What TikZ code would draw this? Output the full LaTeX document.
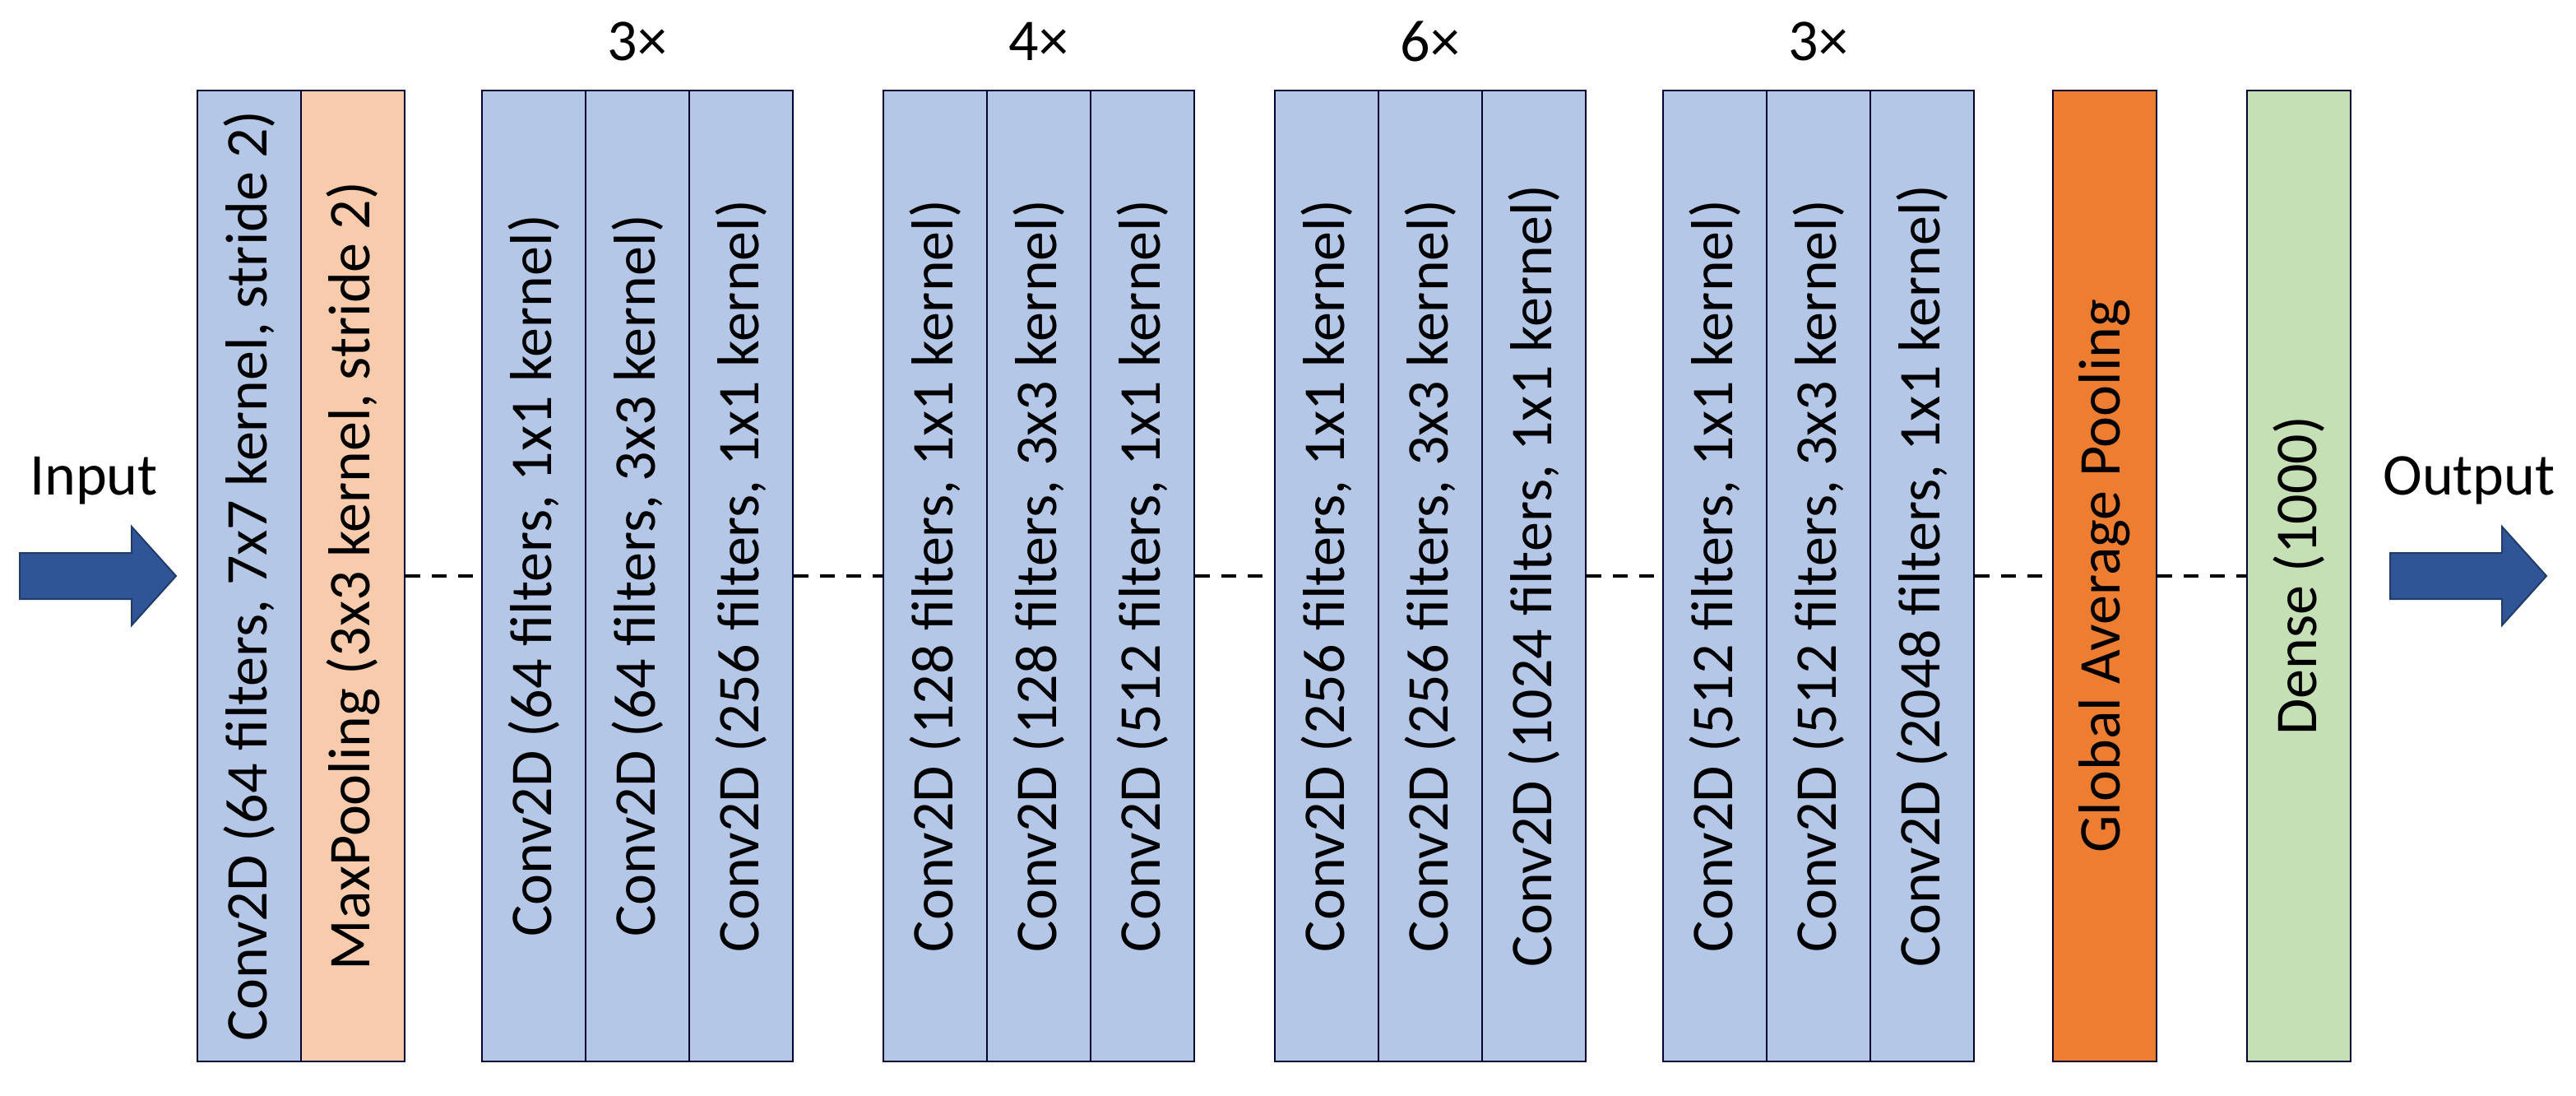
\documentclass[tikz,border=0pt]{standalone}
\usepackage{fontspec}
\setmainfont{Carlito}
\begin{document}
\begin{tikzpicture}[x=1pt,y=-1pt,
 blk/.style={draw=black!80!blue,line width=1pt,rotate=90,minimum width=590pt,minimum height=63pt,inner sep=0pt,font=\fontsize{36}{40}\selectfont},
 con/.style={draw=black,line width=2.2pt,dash pattern=on 9pt off 7pt},
 lab/.style={font=\fontsize{36}{40}\selectfont}]
\definecolor{lb}{HTML}{B4C7E7}\definecolor{pe}{HTML}{F8CBAD}
\definecolor{og}{HTML}{ED7D31}\definecolor{gr}{HTML}{C5E0B4}
\definecolor{ab}{HTML}{2F5597}
\useasboundingbox (0,0) rectangle (1566,666);
\path[fill=ab,draw=ab!70!black,line width=1pt] (12,336)--(80,336)--(80,320)--(107,350)--(80,380)--(80,364)--(12,364)--cycle;
\path[fill=ab,draw=ab!70!black,line width=1pt] (1453,336)--(1521,336)--(1521,320)--(1548,350)--(1521,380)--(1521,364)--(1453,364)--cycle;
\node[lab] (in) at (57,292) {Input};
\node[lab] (out) at (1501,292) {Output};
\node[blk,fill=lb] (c1) at (151.5,350) {Conv2D (64 filters, 7x7 kernel, stride 2)};
\node[blk,fill=pe] (mp) at (214.5,350) {MaxPooling (3x3 kernel, stride 2)};
\node[blk,fill=lb] (a1) at (324.5,350) {Conv2D (64 filters, 1x1 kernel)};
\node[blk,fill=lb] (a2) at (387.5,350) {Conv2D (64 filters, 3x3 kernel)};
\node[blk,fill=lb] (a3) at (450.5,350) {Conv2D (256 filters, 1x1 kernel)};
\node[blk,fill=lb] (b1) at (568.5,350) {Conv2D (128 filters, 1x1 kernel)};
\node[blk,fill=lb] (b2) at (631.5,350) {Conv2D (128 filters, 3x3 kernel)};
\node[blk,fill=lb] (b3) at (694.5,350) {Conv2D (512 filters, 1x1 kernel)};
\node[blk,fill=lb] (d1) at (806.5,350) {Conv2D (256 filters, 1x1 kernel)};
\node[blk,fill=lb] (d2) at (869.5,350) {Conv2D (256 filters, 3x3 kernel)};
\node[blk,fill=lb] (d3) at (932.5,350) {Conv2D (1024 filters, 1x1 kernel)};
\node[blk,fill=lb] (e1) at (1042.5,350) {Conv2D (512 filters, 1x1 kernel)};
\node[blk,fill=lb] (e2) at (1105.5,350) {Conv2D (512 filters, 3x3 kernel)};
\node[blk,fill=lb] (e3) at (1168.5,350) {Conv2D (2048 filters, 1x1 kernel)};
\node[blk,fill=og] (gap) at (1279.5,350) {Global Average Pooling};
\node[blk,fill=gr] (de) at (1397.5,350) {Dense (1000)};
\node[lab] at (387.5,25) {3×};
\node[lab] at (631.5,25) {4×};
\node[lab] at (869.5,25) {6×};
\node[lab] at (1105.5,25) {3×};
\draw[con] (mp)--(a1); \draw[con] (a3)--(b1); \draw[con] (b3)--(d1);
\draw[con] (d3)--(e1); \draw[con] (e3)--(gap); \draw[con] (gap)--(de);
\end{tikzpicture}
\end{document}
